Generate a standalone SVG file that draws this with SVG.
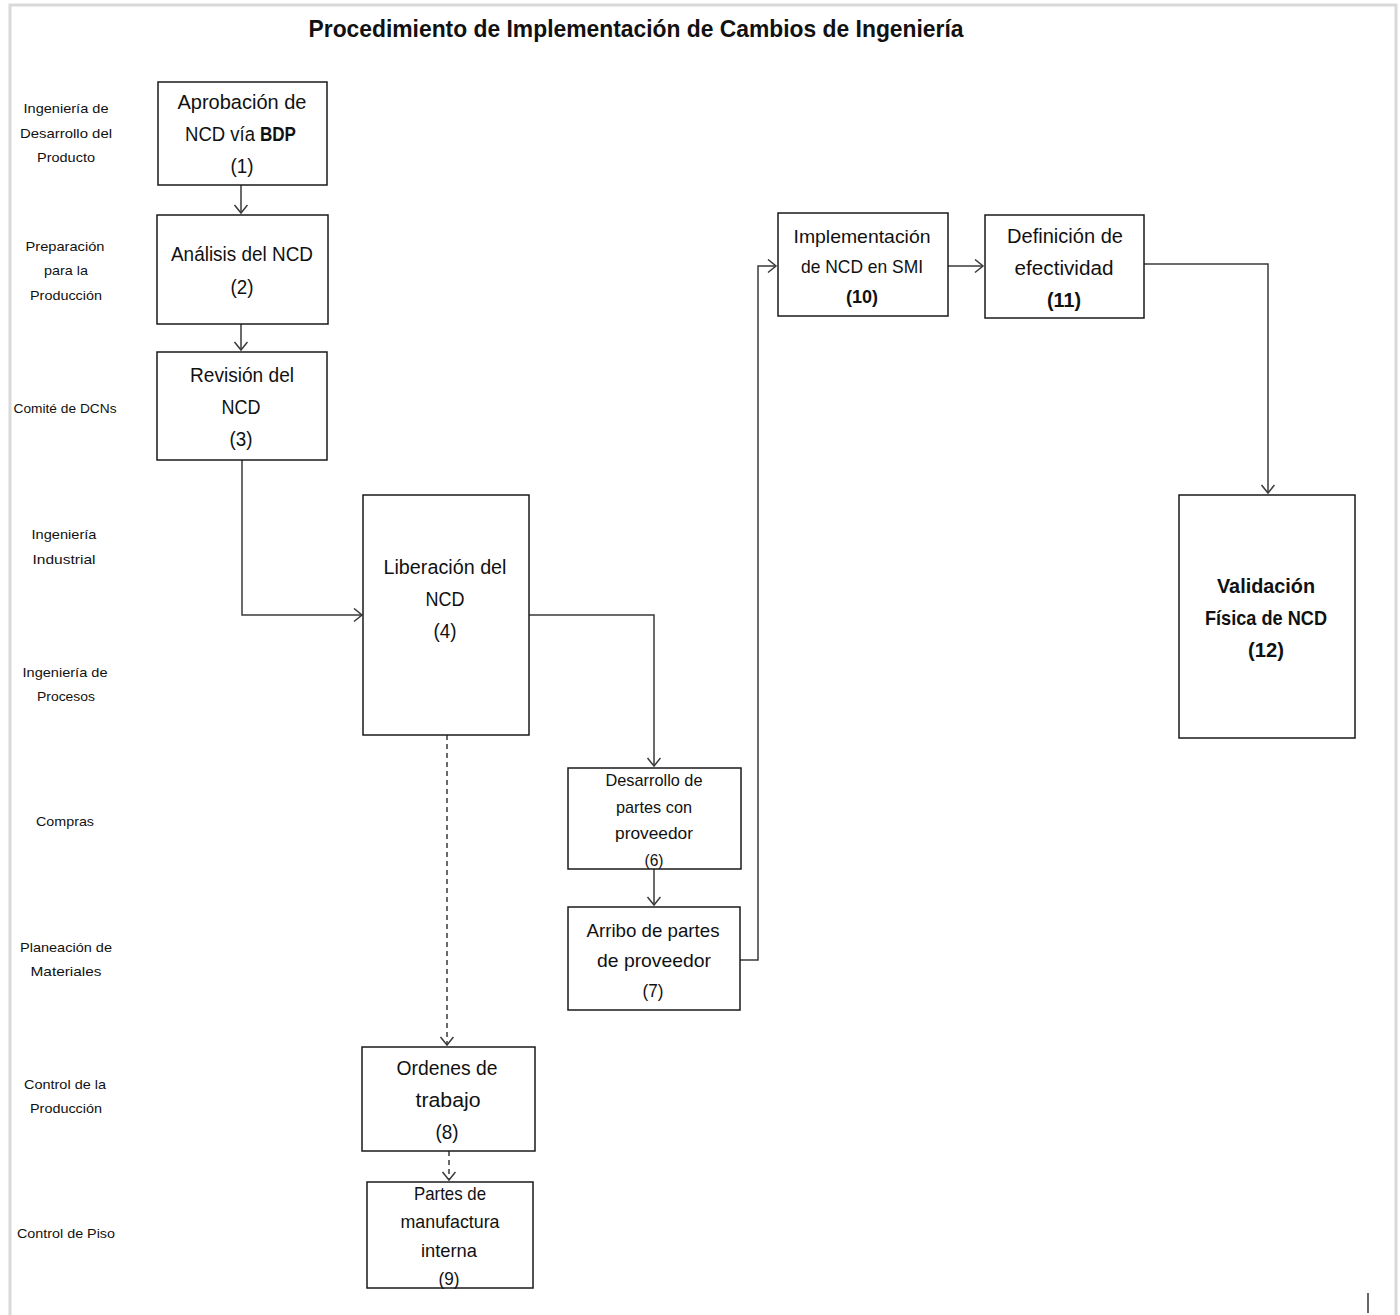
<svg xmlns="http://www.w3.org/2000/svg" width="1400" height="1315" viewBox="0 0 1400 1315">
  <style>
    .frame { fill: none; stroke: #d9d9d9; stroke-width: 3; }
    .box { fill: #ffffff; stroke: #1a1a1a; stroke-width: 1.5; }
    .conn { fill: none; stroke: #3a3a3a; stroke-width: 1.5; }
    .dash { stroke-dasharray: 5 4; }
    text { font-family: "Liberation Sans", Arial, sans-serif; fill: #111111; text-anchor: middle; }
    .t { font-size: 20.5px; }
    .ts { font-size: 17px; }
    .tm { font-size: 18.5px; }
    .b { font-weight: bold; }
    .lane { font-size: 13.5px; }
    .title { font-size: 24px; font-weight: bold; }
  </style>
  <defs>
    <marker id="arrow" markerUnits="userSpaceOnUse" markerWidth="14" markerHeight="16" refX="9" refY="7" orient="auto">
      <path d="M1,0.5 L9,7 L1,13.5" fill="none" stroke="#3a3a3a" stroke-width="1.5"/>
    </marker>
  </defs>

  <rect width="1400" height="1315" fill="#ffffff"/>
  <!-- page frame -->
  <path class="frame" d="M10,1315 V5 H1396 V1315"/>
  <line x1="1368" y1="1293" x2="1368" y2="1313" stroke="#333333" stroke-width="1.5"/>

  <text class="title" x="636" y="37" textLength="655" lengthAdjust="spacingAndGlyphs">Procedimiento de Implementación de Cambios de Ingeniería</text>

  <!-- swimlane labels -->
  <g id="lanes" class="lane">
    <text x="66" y="113" textLength="85" lengthAdjust="spacingAndGlyphs">Ingeniería de</text>
    <text x="66" y="138" textLength="92" lengthAdjust="spacingAndGlyphs">Desarrollo del</text>
    <text x="66" y="162" textLength="58" lengthAdjust="spacingAndGlyphs">Producto</text>
    <text x="65" y="251" textLength="79" lengthAdjust="spacingAndGlyphs">Preparación</text>
    <text x="66" y="275" textLength="44" lengthAdjust="spacingAndGlyphs">para la</text>
    <text x="66" y="300" textLength="72" lengthAdjust="spacingAndGlyphs">Producción</text>
    <text x="65" y="413" textLength="103" lengthAdjust="spacingAndGlyphs">Comité de DCNs</text>
    <text x="64" y="539" textLength="65" lengthAdjust="spacingAndGlyphs">Ingeniería</text>
    <text x="64" y="564" textLength="63" lengthAdjust="spacingAndGlyphs">Industrial</text>
    <text x="65" y="677" textLength="85" lengthAdjust="spacingAndGlyphs">Ingeniería de</text>
    <text x="66" y="701" textLength="58" lengthAdjust="spacingAndGlyphs">Procesos</text>
    <text x="65" y="826" textLength="58" lengthAdjust="spacingAndGlyphs">Compras</text>
    <text x="66" y="952" textLength="92" lengthAdjust="spacingAndGlyphs">Planeación de</text>
    <text x="66" y="976" textLength="71" lengthAdjust="spacingAndGlyphs">Materiales</text>
    <text x="65" y="1089" textLength="82" lengthAdjust="spacingAndGlyphs">Control de la</text>
    <text x="66" y="1113" textLength="72" lengthAdjust="spacingAndGlyphs">Producción</text>
    <text x="66" y="1238" textLength="98" lengthAdjust="spacingAndGlyphs">Control de Piso</text>
  </g>

  <!-- connectors -->
  <g id="connectors">
    <path class="conn" d="M241,185 V213" marker-end="url(#arrow)"/>
    <path class="conn" d="M241,324 V350" marker-end="url(#arrow)"/>
    <path class="conn" d="M242,460 V615 H362" marker-end="url(#arrow)"/>
    <path class="conn" d="M529,615 H654 V766" marker-end="url(#arrow)"/>
    <path class="conn dash" d="M447,735 V1045" marker-end="url(#arrow)"/>
    <path class="conn" d="M654,869 V905" marker-end="url(#arrow)"/>
    <path class="conn" d="M740,960 H758 V266 H776" marker-end="url(#arrow)"/>
    <path class="conn" d="M948,266 H983" marker-end="url(#arrow)"/>
    <path class="conn" d="M1140,264 H1268 V493" marker-end="url(#arrow)"/>
    <path class="conn dash" d="M449,1151 V1180" marker-end="url(#arrow)"/>
  </g>

  <g id="n1">
    <rect class="box" x="158" y="82" width="169" height="103"/>
    <text class="t" x="242" y="109" textLength="129" lengthAdjust="spacingAndGlyphs">Aprobación de</text>
    <text class="t" x="220" y="141" textLength="70" lengthAdjust="spacingAndGlyphs">NCD vía</text>
    <text class="t b" x="278" y="141" textLength="36" lengthAdjust="spacingAndGlyphs">BDP</text>
    <text class="t" x="242" y="173" textLength="23" lengthAdjust="spacingAndGlyphs">(1)</text>
  </g>
  <g id="n2">
    <rect class="box" x="157" y="215" width="171" height="109"/>
    <text class="t" x="242" y="261" textLength="142" lengthAdjust="spacingAndGlyphs">Análisis del NCD</text>
    <text class="t" x="242" y="294" textLength="23" lengthAdjust="spacingAndGlyphs">(2)</text>
  </g>
  <g id="n3">
    <rect class="box" x="157" y="352" width="170" height="108"/>
    <text class="t" x="242" y="382" textLength="104" lengthAdjust="spacingAndGlyphs">Revisión del</text>
    <text class="t" x="241" y="414" textLength="39" lengthAdjust="spacingAndGlyphs">NCD</text>
    <text class="t" x="241" y="446" textLength="23" lengthAdjust="spacingAndGlyphs">(3)</text>
  </g>
  <g id="n4">
    <rect class="box" x="363" y="495" width="166" height="240"/>
    <text class="t" x="445" y="574" textLength="123" lengthAdjust="spacingAndGlyphs">Liberación del</text>
    <text class="t" x="445" y="606" textLength="39" lengthAdjust="spacingAndGlyphs">NCD</text>
    <text class="t" x="445" y="638" textLength="23" lengthAdjust="spacingAndGlyphs">(4)</text>
  </g>
  <g id="n6">
    <rect class="box" x="568" y="768" width="173" height="101"/>
    <text class="ts" x="654" y="786" textLength="97" lengthAdjust="spacingAndGlyphs">Desarrollo de</text>
    <text class="ts" x="654" y="813" textLength="76" lengthAdjust="spacingAndGlyphs">partes con</text>
    <text class="ts" x="654" y="839" textLength="78" lengthAdjust="spacingAndGlyphs">proveedor</text>
    <text class="ts" x="654" y="866" textLength="19" lengthAdjust="spacingAndGlyphs">(6)</text>
  </g>
  <g id="n7">
    <rect class="box" x="568" y="907" width="172" height="103"/>
    <text class="tm" x="653" y="937" textLength="133" lengthAdjust="spacingAndGlyphs">Arribo de partes</text>
    <text class="tm" x="654" y="967" textLength="114" lengthAdjust="spacingAndGlyphs">de proveedor</text>
    <text class="tm" x="653" y="997" textLength="21" lengthAdjust="spacingAndGlyphs">(7)</text>
  </g>
  <g id="n8">
    <rect class="box" x="362" y="1047" width="173" height="104"/>
    <text class="t" x="447" y="1075" textLength="101" lengthAdjust="spacingAndGlyphs">Ordenes de</text>
    <text class="t" x="448" y="1107" textLength="65" lengthAdjust="spacingAndGlyphs">trabajo</text>
    <text class="t" x="447" y="1139" textLength="23" lengthAdjust="spacingAndGlyphs">(8)</text>
  </g>
  <g id="n9">
    <rect class="box" x="367" y="1182" width="166" height="106"/>
    <text class="tm" x="450" y="1200" textLength="72" lengthAdjust="spacingAndGlyphs">Partes de</text>
    <text class="tm" x="450" y="1228" textLength="99" lengthAdjust="spacingAndGlyphs">manufactura</text>
    <text class="tm" x="449" y="1257" textLength="56" lengthAdjust="spacingAndGlyphs">interna</text>
    <text class="tm" x="449" y="1285" textLength="21" lengthAdjust="spacingAndGlyphs">(9)</text>
  </g>
  <g id="n10">
    <rect class="box" x="778" y="213" width="170" height="103"/>
    <text class="tm" x="862" y="243" textLength="137" lengthAdjust="spacingAndGlyphs">Implementación</text>
    <text class="tm" x="862" y="273" textLength="122" lengthAdjust="spacingAndGlyphs">de NCD en SMI</text>
    <text class="tm b" x="862" y="303" textLength="32" lengthAdjust="spacingAndGlyphs">(10)</text>
  </g>
  <g id="n11">
    <rect class="box" x="985" y="215" width="159" height="103"/>
    <text class="t" x="1065" y="243" textLength="116" lengthAdjust="spacingAndGlyphs">Definición de</text>
    <text class="t" x="1064" y="275" textLength="99" lengthAdjust="spacingAndGlyphs">efectividad</text>
    <text class="t b" x="1064" y="307" textLength="34" lengthAdjust="spacingAndGlyphs">(11)</text>
  </g>
  <g id="n12">
    <rect class="box" x="1179" y="495" width="176" height="243"/>
    <text class="t b" x="1266" y="593" textLength="98" lengthAdjust="spacingAndGlyphs">Validación</text>
    <text class="t b" x="1266" y="625" textLength="122" lengthAdjust="spacingAndGlyphs">Física de NCD</text>
    <text class="t b" x="1266" y="657" textLength="36" lengthAdjust="spacingAndGlyphs">(12)</text>
  </g>
</svg>
